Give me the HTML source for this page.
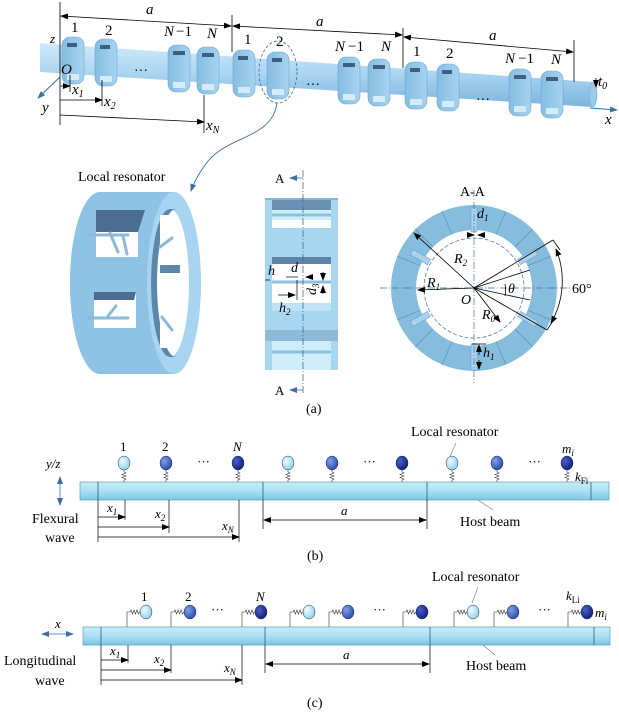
<!DOCTYPE html>
<html><head><meta charset="utf-8"><style>
html,body{margin:0;padding:0;background:#fff;}
svg{display:block;font-family:"Liberation Serif",serif;}
</style></head><body>
<svg width="619" height="715" viewBox="0 0 619 715" xmlns="http://www.w3.org/2000/svg">
<defs>
<linearGradient id="bm" x1="0" y1="0" x2="0" y2="1"><stop offset="0" stop-color="#c9eef9"/><stop offset="0.5" stop-color="#a9e0f3"/><stop offset="1" stop-color="#7cc6e6"/></linearGradient>
<linearGradient id="sh" x1="0" y1="0" x2="0" y2="1"><stop offset="0" stop-color="#cfeafa"/><stop offset="0.5" stop-color="#a8d4f0"/><stop offset="1" stop-color="#7db4de"/></linearGradient>
<linearGradient id="rg" x1="0" y1="0" x2="1" y2="0"><stop offset="0" stop-color="#86bde2"/><stop offset="1" stop-color="#a6d3ef"/></linearGradient>
<radialGradient id="b1" cx="0.35" cy="0.35" r="0.7"><stop offset="0" stop-color="#f0fbff"/><stop offset="1" stop-color="#8fd0ea"/></radialGradient>
<radialGradient id="b2" cx="0.35" cy="0.35" r="0.7"><stop offset="0" stop-color="#7fa0e8"/><stop offset="1" stop-color="#2a4aa8"/></radialGradient>
<radialGradient id="b3" cx="0.35" cy="0.35" r="0.7"><stop offset="0" stop-color="#4a60c8"/><stop offset="1" stop-color="#101e78"/></radialGradient>
<marker id="ar" markerWidth="8" markerHeight="6" refX="7" refY="3" orient="auto" markerUnits="userSpaceOnUse"><path d="M0,0 L8,3 L0,6 z" fill="#000"/></marker>
<marker id="as" markerWidth="8" markerHeight="6" refX="1" refY="3" orient="auto" markerUnits="userSpaceOnUse"><path d="M8,0 L0,3 L8,6 z" fill="#000"/></marker>
<marker id="ab" markerWidth="8" markerHeight="6" refX="7" refY="3" orient="auto" markerUnits="userSpaceOnUse"><path d="M0,0 L8,3 L0,6 z" fill="#3a6ea5"/></marker>
<marker id="abs" markerWidth="8" markerHeight="6" refX="1" refY="3" orient="auto" markerUnits="userSpaceOnUse"><path d="M8,0 L0,3 L8,6 z" fill="#3a6ea5"/></marker>
<path id="spr" d="M0,470 l0,2 l2,1 l-4,1.5 l4,1.5 l-4,1.5 l4,1.5 l-2,1 l0,2" fill="none" stroke="#333" stroke-width="0.6"/>
<path id="hs" d="M0,627 l0,-15 l3,0 l1,-2 l1.5,4 l1.5,-4 l1.5,4 l1.5,-4 l1.5,4 l1,-2 l5,0" fill="none" stroke="#333" stroke-width="0.6"/>
</defs>

<!-- ===== Panel (a) top shaft ===== -->
<line x1="60" y1="77" x2="38" y2="98" stroke="#3a6ea5" stroke-width="1" marker-end="url(#ab)"/>
<line x1="590" y1="108" x2="617" y2="110" stroke="#3a6ea5" stroke-width="1" marker-end="url(#ab)"/>
<polygon points="40,43 593,82 593,107 40,72" fill="url(#sh)"/>
<ellipse cx="593" cy="94.5" rx="4" ry="12.5" fill="#9ccbea" stroke="#6aa0cc" stroke-width="0.5"/>
<g fill="url(#rg)" stroke="#6fa6d2" stroke-width="0.6">
<rect x="62" y="37" width="22" height="47" rx="8"/>
<rect x="95" y="39" width="22" height="47" rx="8"/>
<rect x="168" y="45" width="22" height="47" rx="8"/>
<rect x="197" y="47" width="22" height="47" rx="8"/>
<rect x="233" y="50" width="22" height="47" rx="8"/>
<rect x="267" y="52" width="22" height="47" rx="8"/>
<rect x="338" y="57" width="22" height="47" rx="8"/>
<rect x="368" y="59" width="22" height="47" rx="8"/>
<rect x="405" y="62" width="22" height="47" rx="8"/>
<rect x="437" y="64" width="22" height="47" rx="8"/>
<rect x="509" y="69" width="22" height="47" rx="8"/>
<rect x="541" y="71" width="22" height="47" rx="8"/>
</g>
<g fill="#3e5f80">
<rect x="67" y="43" width="10" height="4"/><rect x="100" y="45" width="10" height="4"/><rect x="173" y="51" width="12" height="4"/><rect x="202" y="53" width="12" height="4"/>
<rect x="238" y="56" width="10" height="4"/><rect x="272" y="58" width="10" height="4"/><rect x="343" y="63" width="12" height="4"/><rect x="373" y="65" width="12" height="4"/>
<rect x="410" y="68" width="10" height="4"/><rect x="442" y="70" width="10" height="4"/><rect x="514" y="75" width="12" height="4"/><rect x="546" y="77" width="12" height="4"/>
</g>
<g fill="#d4ecfa">
<rect x="67" y="74" width="12" height="6"/><rect x="100" y="76" width="12" height="6"/><rect x="173" y="82" width="12" height="6"/><rect x="202" y="84" width="12" height="6"/>
<rect x="238" y="87" width="12" height="6"/><rect x="272" y="89" width="12" height="6"/><rect x="343" y="94" width="12" height="6"/><rect x="373" y="96" width="12" height="6"/>
<rect x="410" y="99" width="12" height="6"/><rect x="442" y="101" width="12" height="6"/><rect x="514" y="106" width="12" height="6"/><rect x="546" y="108" width="12" height="6"/>
</g>
<g font-size="14" fill="#000">
<text x="134" y="75">···</text><text x="306" y="89">···</text><text x="476" y="104">···</text>
</g>
<g stroke="#000" stroke-width="0.8" fill="none">
<line x1="60" y1="2" x2="60" y2="125"/>
<line x1="232" y1="15" x2="232" y2="52"/>
<line x1="403" y1="28" x2="403" y2="68"/>
<line x1="574" y1="40" x2="574" y2="82"/>
<line x1="61" y1="16" x2="231" y2="26" marker-start="url(#as)" marker-end="url(#ar)"/>
<line x1="233" y1="26" x2="402" y2="35" marker-start="url(#as)" marker-end="url(#ar)"/>
<line x1="404" y1="37" x2="573" y2="52" marker-start="url(#as)" marker-end="url(#ar)"/>
<line x1="60" y1="86" x2="70" y2="86" marker-end="url(#ar)"/>
<line x1="70" y1="75" x2="70" y2="92"/>
<line x1="60" y1="100" x2="102" y2="100" marker-end="url(#ar)"/>
<line x1="102" y1="80" x2="102" y2="106"/>
<line x1="60" y1="115" x2="204" y2="122" marker-end="url(#ar)"/>
<line x1="204" y1="95" x2="204" y2="133"/>
<line x1="596" y1="78" x2="596" y2="87" marker-end="url(#ar)"/>
</g>
<ellipse cx="278" cy="72" rx="19" ry="31" fill="none" stroke="#3a6ea5" stroke-width="0.8" stroke-dasharray="3,2"/>
<path d="M277,103 C272,140 225,135 205,165 C198,175 194,182 191,191" fill="none" stroke="#3a6ea5" stroke-width="0.9" marker-end="url(#ab)"/>
<g font-size="15" fill="#000">
<text x="146" y="14" font-style="italic">a</text><text x="316" y="26" font-style="italic">a</text><text x="489" y="40" font-style="italic">a</text>
<text x="71" y="32">1</text><text x="105" y="35">2</text><text x="164" y="36" font-style="italic">N</text><text x="176" y="36">−1</text><text x="207" y="38" font-style="italic">N</text>
<text x="244" y="44">1</text><text x="276" y="46">2</text><text x="335" y="51" font-style="italic">N</text><text x="348" y="51">−1</text><text x="381" y="51" font-style="italic">N</text>
<text x="413" y="56">1</text><text x="446" y="58">2</text><text x="505" y="63" font-style="italic">N</text><text x="518" y="63">−1</text><text x="551" y="64" font-style="italic">N</text>
<text x="50" y="43" font-style="italic" font-size="13">z</text>
<text x="61" y="74" font-style="italic">O</text>
<text x="42" y="112" font-style="italic">y</text>
<text x="72" y="94" font-style="italic">x<tspan font-size="10" dy="3">1</tspan></text>
<text x="104" y="106" font-style="italic">x<tspan font-size="10" dy="3">2</tspan></text>
<text x="206" y="130" font-style="italic">x<tspan font-size="10" dy="3">N</tspan></text>
<text x="598" y="86" font-style="italic">t<tspan font-size="10" dy="3">0</tspan></text>
<text x="605" y="124" font-style="italic">x</text>
</g>

<!-- Local resonator 3D -->
<text x="78" y="181" font-size="14">Local resonator</text>
<path d="M100,192 L173,192 A27,91 0 0 1 173,374 L100,374 A30,91 0 0 1 100,192 Z" fill="#7fb7de"/>
<path d="M100,192 L173,192 L173,374 L100,374 A30,91 0 0 1 100,192 Z" fill="#8ec3e6"/>
<ellipse cx="174" cy="283" rx="27" ry="91" fill="#a7d4f0"/>
<ellipse cx="170" cy="283" rx="19" ry="74" fill="#fff"/>
<path d="M151,283 A19,74 0 0 1 170,209 L176,209 A19,74 0 0 0 157,283 A19,74 0 0 0 176,357 L170,357 A19,74 0 0 1 151,283Z" fill="#5d86ad"/>
<rect x="160" y="265" width="20" height="8" fill="#5d86ad"/>
<polygon points="96,210 145,210 138,232 96,232" fill="#4a6d90"/>
<rect x="96" y="232" width="42" height="25" fill="#fff"/>
<rect x="94" y="292" width="42" height="36" fill="#fff"/>
<polygon points="94,292 136,292 134,300 94,300" fill="#4a6d90"/>
<rect x="160" y="215" width="18" height="48" fill="#fff"/>
<rect x="160" y="303" width="18" height="45" fill="#fff"/>
<g stroke="#8cb9d9" stroke-width="3" stroke-linecap="round">
<line x1="90" y1="235" x2="128" y2="235"/><line x1="110" y1="233" x2="118" y2="252"/><line x1="123" y1="236" x2="127" y2="254"/>
<line x1="88" y1="318" x2="128" y2="318"/><line x1="108" y1="316" x2="116" y2="306"/>
<line x1="160" y1="247" x2="172" y2="238"/><line x1="162" y1="317" x2="172" y2="330"/>
</g>

<!-- middle section -->
<rect x="265" y="198" width="73" height="172" fill="#a7d6ef"/>
<rect x="265" y="198" width="73" height="2" fill="#7fb5d8"/>
<rect x="272" y="200" width="59" height="28" fill="#cfeefa"/>
<rect x="272" y="200" width="59" height="10" fill="#6b90b4"/>
<rect x="272" y="220" width="59" height="8" fill="#fff"/>
<rect x="272" y="257" width="59" height="53" fill="#fff"/>
<rect x="272" y="257" width="59" height="7" fill="#5f84aa"/>
<rect x="272" y="303" width="59" height="8" fill="#bfe3f5"/>
<rect x="272" y="341" width="59" height="29" fill="#cfeefa"/>
<rect x="265" y="330" width="73" height="11" fill="#7ea5c8" opacity="0.6"/>
<line x1="272" y1="282" x2="331" y2="282" stroke="#8cc0e0" stroke-width="3"/>
<line x1="272" y1="215" x2="331" y2="215" stroke="#8cc0e0" stroke-width="3"/>
<line x1="272" y1="352" x2="331" y2="352" stroke="#8cc0e0" stroke-width="3"/>
<line x1="303" y1="170" x2="303" y2="395" stroke="#3a6ea5" stroke-width="0.8" stroke-dasharray="7,2,1,2"/>
<line x1="303" y1="178" x2="290" y2="178" stroke="#3a6ea5" stroke-width="0.8" marker-end="url(#ab)"/>
<line x1="303" y1="390" x2="290" y2="390" stroke="#3a6ea5" stroke-width="0.8" marker-end="url(#ab)"/>
<g font-size="13"><text x="275" y="183">A</text><text x="275" y="395">A</text></g>
<g stroke="#000" stroke-width="0.7">
<line x1="265" y1="280" x2="270" y2="280"/>
<line x1="278" y1="295" x2="295" y2="295" marker-end="url(#ar)"/>
<line x1="297" y1="280" x2="297" y2="300"/>
<line x1="286" y1="277" x2="298" y2="277"/>
<line x1="313" y1="277" x2="306" y2="277" marker-end="url(#ar)"/>
<line x1="323" y1="272" x2="323" y2="280" marker-end="url(#ar)"/>
<line x1="323" y1="294" x2="323" y2="286" marker-end="url(#ar)"/>
</g>
<g font-size="14" font-style="italic">
<text x="268" y="275">h</text>
<text x="291" y="272">d</text>
<text x="279" y="312">h<tspan font-size="9" dy="3">2</tspan></text>
<text x="309" y="296" transform="rotate(-90 312 292)">d<tspan font-size="9" dy="3">3</tspan></text>
</g>

<!-- A-A section -->
<text x="460" y="196" font-size="14">A-A</text>
<circle cx="474" cy="288" r="83" fill="#86bcdc"/>
<g stroke="#4f7ea5" stroke-width="0.5">
<line x1="474" y1="205" x2="474" y2="231" transform="rotate(22.5 474 288)"/>
<line x1="474" y1="205" x2="474" y2="231" transform="rotate(45 474 288)"/>
<line x1="474" y1="205" x2="474" y2="231" transform="rotate(67.5 474 288)"/>
<line x1="474" y1="205" x2="474" y2="231" transform="rotate(112.5 474 288)"/>
<line x1="474" y1="205" x2="474" y2="231" transform="rotate(135 474 288)"/>
<line x1="474" y1="205" x2="474" y2="231" transform="rotate(157.5 474 288)"/>
<line x1="474" y1="205" x2="474" y2="231" transform="rotate(202.5 474 288)"/>
<line x1="474" y1="205" x2="474" y2="231" transform="rotate(225 474 288)"/>
<line x1="474" y1="205" x2="474" y2="231" transform="rotate(247.5 474 288)"/>
<line x1="474" y1="205" x2="474" y2="231" transform="rotate(292.5 474 288)"/>
<line x1="474" y1="205" x2="474" y2="231" transform="rotate(315 474 288)"/>
<line x1="474" y1="205" x2="474" y2="231" transform="rotate(337.5 474 288)"/>
</g>
<circle cx="474" cy="288" r="58" fill="#fff"/>
<circle cx="474" cy="288" r="50" fill="none" stroke="#3a6ea5" stroke-width="0.7" stroke-dasharray="4,2"/>
<g fill="#a9d3ee" stroke="#6a9cc6" stroke-width="0.5">
<rect x="471" y="208" width="6" height="24"/><rect x="471" y="344" width="6" height="26"/>
<rect x="471" y="216" width="6" height="20" transform="rotate(60 474 288)"/>
<rect x="471" y="216" width="6" height="20" transform="rotate(120 474 288)"/>
<rect x="471" y="216" width="6" height="20" transform="rotate(-60 474 288)"/>
<rect x="471" y="216" width="6" height="20" transform="rotate(-120 474 288)"/>
</g>
<line x1="380" y1="288" x2="570" y2="288" stroke="#3a6ea5" stroke-width="0.7" stroke-dasharray="7,2,1,2"/>
<line x1="474" y1="190" x2="474" y2="383" stroke="#3a6ea5" stroke-width="0.7" stroke-dasharray="7,2,1,2"/>
<g stroke="#000" stroke-width="0.8" fill="none">
<line x1="474" y1="288" x2="414" y2="233" marker-end="url(#ar)"/>
<line x1="474" y1="288" x2="418" y2="290" marker-end="url(#ar)"/>
<line x1="474" y1="288" x2="500" y2="322" marker-end="url(#ar)"/>
<line x1="474" y1="288" x2="553" y2="240"/>
<line x1="474" y1="288" x2="547" y2="330"/>
<line x1="474" y1="288" x2="530" y2="270"/>
<line x1="474" y1="288" x2="530" y2="300"/>
<line x1="553" y1="240" x2="560" y2="250"/>
<line x1="547" y1="330" x2="553" y2="321"/>
<path d="M556,249 A84,84 0 0 1 551,323" marker-start="url(#as)" marker-end="url(#ar)"/>
<line x1="469" y1="235" x2="474" y2="235" marker-end="url(#ar)"/>
<line x1="484" y1="235" x2="478" y2="235" marker-end="url(#ar)"/>
<line x1="472" y1="344" x2="486" y2="344"/>
<line x1="479" y1="355" x2="479" y2="345" marker-end="url(#ar)"/>
<line x1="479" y1="360" x2="479" y2="369" marker-end="url(#ar)"/>
<path d="M505,284 A32,32 0 0 1 505,296"/>
</g>
<g font-size="14" font-style="italic">
<text x="454" y="263">R<tspan font-size="9" dy="3">2</tspan></text>
<text x="427" y="287">R<tspan font-size="9" dy="3">1</tspan></text>
<text x="461" y="304">O</text>
<text x="508" y="293">θ</text>
<text x="482" y="319">R<tspan font-size="9" dy="3">0</tspan></text>
<text x="477" y="218">d<tspan font-size="9" dy="3">1</tspan></text>
<text x="483" y="357">h<tspan font-size="9" dy="3">1</tspan></text>
</g>
<text x="572" y="293" font-size="14">60°</text>
<text x="306" y="413" font-size="14">(a)</text>

<!-- ===== Panel (b) ===== -->
<rect x="80" y="482" width="529" height="18" fill="url(#bm)" stroke="#4a8fb8" stroke-width="0.6"/>
<g stroke="#2a5a80" stroke-width="0.8"><line x1="98" y1="482" x2="98" y2="500"/><line x1="263" y1="482" x2="263" y2="500"/><line x1="427" y1="482" x2="427" y2="500"/><line x1="591" y1="482" x2="591" y2="500"/></g>
<g>
<use href="#spr" x="124"/><use href="#spr" x="166"/><use href="#spr" x="238"/><use href="#spr" x="288"/><use href="#spr" x="332"/><use href="#spr" x="402"/><use href="#spr" x="452"/><use href="#spr" x="497"/><use href="#spr" x="567"/>
</g>
<g stroke="#1a2a6a" stroke-width="0.5">
<ellipse cx="124" cy="463" rx="6" ry="7" fill="url(#b1)"/><ellipse cx="166" cy="463" rx="6" ry="7" fill="url(#b2)"/><ellipse cx="238" cy="463" rx="6" ry="7" fill="url(#b3)"/>
<ellipse cx="288" cy="463" rx="6" ry="7" fill="url(#b1)"/><ellipse cx="332" cy="463" rx="6" ry="7" fill="url(#b2)"/><ellipse cx="402" cy="463" rx="6" ry="7" fill="url(#b3)"/>
<ellipse cx="452" cy="463" rx="6" ry="7" fill="url(#b1)"/><ellipse cx="497" cy="463" rx="6" ry="7" fill="url(#b2)"/><ellipse cx="567" cy="463" rx="6" ry="7" fill="url(#b3)"/>
</g>
<g font-size="13"><text x="197" y="466">···</text><text x="363" y="466">···</text><text x="528" y="466">···</text>
<text x="120" y="451">1</text><text x="162" y="451">2</text><text x="233" y="451" font-style="italic">N</text></g>
<line x1="456" y1="443" x2="450" y2="456" stroke="#777" stroke-width="0.6"/>
<line x1="478" y1="500" x2="493" y2="510" stroke="#777" stroke-width="0.6"/>
<text x="411" y="436" font-size="14">Local resonator</text>
<text x="460" y="526" font-size="14">Host beam</text>
<text x="562" y="453" font-size="13" font-style="italic">m<tspan font-size="9" dy="3">i</tspan></text>
<text x="575" y="481" font-size="13" font-style="italic">k<tspan font-size="9" dy="3" font-style="normal">Fi</tspan></text>
<text x="46" y="468" font-size="13" font-style="italic">y/z</text>
<line x1="60" y1="477" x2="60" y2="505" stroke="#3a6ea5" stroke-width="0.8" marker-start="url(#abs)" marker-end="url(#ab)"/>
<text x="32" y="523" font-size="14">Flexural</text>
<text x="45" y="542" font-size="14">wave</text>
<g stroke="#000" stroke-width="0.7">
<line x1="98" y1="500" x2="98" y2="542"/><line x1="125" y1="500" x2="125" y2="520"/><line x1="169" y1="500" x2="169" y2="533"/><line x1="239" y1="500" x2="239" y2="542"/><line x1="263" y1="500" x2="263" y2="529"/><line x1="427" y1="500" x2="427" y2="529"/>
<line x1="98" y1="517" x2="125" y2="517" marker-end="url(#ar)"/>
<line x1="98" y1="527" x2="169" y2="527" marker-end="url(#ar)"/>
<line x1="98" y1="537" x2="239" y2="537" marker-end="url(#ar)"/>
<line x1="264" y1="520" x2="426" y2="520" marker-start="url(#as)" marker-end="url(#ar)"/>
</g>
<g font-size="13" font-style="italic">
<text x="107" y="512">x<tspan font-size="9" dy="3">1</tspan></text>
<text x="155" y="518">x<tspan font-size="9" dy="3">2</tspan></text>
<text x="222" y="530">x<tspan font-size="9" dy="3">N</tspan></text>
<text x="341" y="515">a</text>
</g>
<text x="307" y="560" font-size="14">(b)</text>

<!-- ===== Panel (c) ===== -->
<rect x="83" y="627" width="527" height="18" fill="url(#bm)" stroke="#4a8fb8" stroke-width="0.6"/>
<g stroke="#2a5a80" stroke-width="0.8"><line x1="101" y1="627" x2="101" y2="645"/><line x1="265" y1="627" x2="265" y2="645"/><line x1="430" y1="627" x2="430" y2="645"/><line x1="594" y1="627" x2="594" y2="645"/></g>
<g><use href="#hs" x="127"/><use href="#hs" x="171"/><use href="#hs" x="242"/><use href="#hs" x="290"/><use href="#hs" x="329"/><use href="#hs" x="403"/><use href="#hs" x="454"/><use href="#hs" x="494"/><use href="#hs" x="568"/></g>
<g stroke="#1a2a6a" stroke-width="0.5">
<ellipse cx="146" cy="612" rx="6" ry="7" fill="url(#b1)"/><ellipse cx="190" cy="612" rx="6" ry="7" fill="url(#b2)"/><ellipse cx="261" cy="612" rx="6" ry="7" fill="url(#b3)"/>
<ellipse cx="309" cy="612" rx="6" ry="7" fill="url(#b1)"/><ellipse cx="348" cy="612" rx="6" ry="7" fill="url(#b2)"/><ellipse cx="422" cy="612" rx="6" ry="7" fill="url(#b3)"/>
<ellipse cx="473" cy="612" rx="6" ry="7" fill="url(#b1)"/><ellipse cx="513" cy="612" rx="6" ry="7" fill="url(#b2)"/><ellipse cx="587" cy="612" rx="6" ry="7" fill="url(#b3)"/>
</g>
<g font-size="13"><text x="211" y="614">···</text><text x="373" y="614">···</text><text x="538" y="614">···</text>
<text x="141" y="601">1</text><text x="185" y="601">2</text><text x="256" y="601" font-style="italic">N</text></g>
<line x1="478" y1="587" x2="472" y2="603" stroke="#777" stroke-width="0.6"/>
<line x1="483" y1="645" x2="495" y2="655" stroke="#777" stroke-width="0.6"/>
<text x="432" y="581" font-size="14">Local resonator</text>
<text x="466" y="670" font-size="14">Host beam</text>
<text x="566" y="600" font-size="13" font-style="italic">k<tspan font-size="9" dy="3" font-style="normal">Li</tspan></text>
<text x="595" y="617" font-size="13" font-style="italic">m<tspan font-size="9" dy="3">i</tspan></text>
<text x="55" y="628" font-size="13" font-style="italic">x</text>
<line x1="42" y1="634" x2="73" y2="634" stroke="#3a6ea5" stroke-width="0.8" marker-start="url(#abs)" marker-end="url(#ab)"/>
<text x="4" y="665" font-size="14">Longitudinal</text>
<text x="35" y="685" font-size="14">wave</text>
<g stroke="#000" stroke-width="0.7">
<line x1="101" y1="645" x2="101" y2="685"/><line x1="128" y1="645" x2="128" y2="663"/><line x1="171" y1="645" x2="171" y2="673"/><line x1="242" y1="645" x2="242" y2="685"/><line x1="265" y1="645" x2="265" y2="673"/><line x1="430" y1="645" x2="430" y2="673"/>
<line x1="101" y1="660" x2="128" y2="660" marker-end="url(#ar)"/>
<line x1="101" y1="670" x2="171" y2="670" marker-end="url(#ar)"/>
<line x1="101" y1="680" x2="242" y2="680" marker-end="url(#ar)"/>
<line x1="266" y1="664" x2="429" y2="664" marker-start="url(#as)" marker-end="url(#ar)"/>
</g>
<g font-size="13" font-style="italic">
<text x="110" y="655">x<tspan font-size="9" dy="3">1</tspan></text>
<text x="154" y="663">x<tspan font-size="9" dy="3">2</tspan></text>
<text x="224" y="672">x<tspan font-size="9" dy="3">N</tspan></text>
<text x="343" y="659">a</text>
</g>
<text x="307" y="707" font-size="14">(c)</text>
</svg>
</body></html>
